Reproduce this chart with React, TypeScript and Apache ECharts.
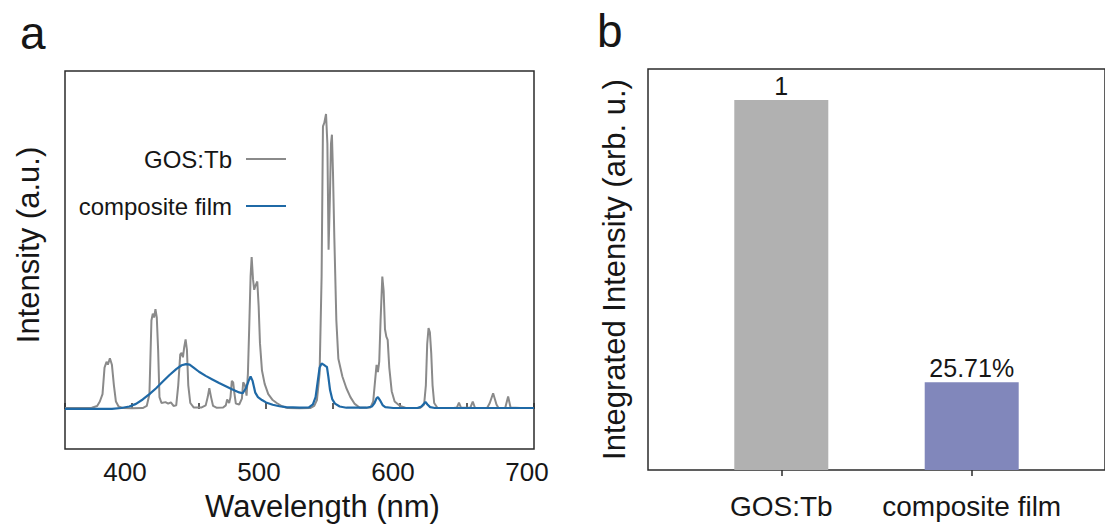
import React, { useEffect, useRef } from "react";
import * as echarts from "echarts";

// ---------- Data ----------
const seriesNames = ["GOS:Tb", "composite film"];

// GOS:Tb emission spectrum [wavelength (nm), intensity (a.u.)]
const gosTbSpectrum: [number, number][] = [
  [350, 0.3], [360, 0.3], [370, 0.4], [374, 1.0], [376, 2.5], [378, 5], [379.5, 14], [381, 16], [382, 15],
  [383.5, 17.2], [385, 15], [386.5, 8], [388, 2.5], [390, 0.8], [393, 0.3], [400, 0.2], [408, 0.3],
  [411, 1], [413, 5], [414.5, 30], [415.5, 32.3], [416.5, 31], [417.5, 33.8], [418.5, 31], [419.5, 20],
  [420.5, 4], [422, 2], [425, 2.3], [427, 1.8], [429, 2.2], [431, 1], [433, 1.2], [434.5, 8], [436, 18.5],
  [437, 19], [438, 17.5], [439, 21], [440, 23.6], [441, 20], [442, 8], [443.5, 2], [446, 0.5], [452, 0.5],
  [455, 1.2], [456.5, 4], [457.7, 7], [459, 4], [460.5, 1], [463, 0.4], [468, 0.5], [470, 1.2], [471, 3.2],
  [472.5, 2], [473.5, 4], [474.5, 9.5], [475.5, 9], [476.5, 5], [477.5, 1.8], [480, 1.5], [482, 3.5],
  [483, 9], [484.3, 8], [485.5, 4.5], [486.5, 12], [487.5, 28], [488.5, 45], [489.3, 51.5], [490.3, 44],
  [491.2, 40.4], [492.3, 42], [493.5, 43.2], [494.5, 35], [495.5, 22.3], [497, 13], [499, 8.5], [501.7, 5],
  [505, 3], [508, 2], [512, 0.9], [516, 0.3], [525, 0.2], [533, 0.3], [536, 1], [538, 3], [540, 12],
  [541.5, 45], [542.5, 95.8], [543.5, 97], [544.8, 100], [545.8, 90], [546.7, 54], [547.7, 72], [548.5, 90],
  [549.2, 93], [550, 80], [551, 58], [552.5, 30], [554, 17], [557, 11], [560, 7], [563, 4], [566, 1.8],
  [570, 0.4], [578, 0.5], [580, 2.5], [581.5, 10], [582.5, 14.9], [583.5, 12.5], [584.5, 16], [585.5, 30],
  [586.8, 44.9], [587.8, 40], [588.8, 27], [589.8, 24.5], [590.8, 23.4], [592, 14], [593.8, 6], [596, 2.5],
  [600, 1], [604, 0.4], [615, 0.3], [618, 1.5], [619.3, 8], [620.3, 22], [621.3, 27.4], [622.3, 26],
  [623.3, 19], [624.3, 8], [625.5, 2], [628, 0.3], [640, 0.3], [642.5, 0.5], [644, 2.1], [645.5, 0.4],
  [652.5, 0.4], [654.3, 2.5], [656, 0.3], [665, 0.3], [667, 2], [669.5, 5.3], [672, 1.5], [673.5, 0.3],
  [678.5, 0.3], [680.7, 4.2], [682.5, 0.5], [690, 0.3], [700, 0.3],
];

// Composite film emission spectrum [wavelength (nm), intensity (a.u.)]
const compositeSpectrum: [number, number][] = [
  [350, 0], [385, 0], [392, 0.3], [398, 0.8], [403, 1.7], [408, 3.2], [413, 5], [418, 7], [423, 9.3],
  [428, 11.5], [433, 13.5], [437, 14.8], [440.3, 15.2], [443, 15], [446, 14], [450, 12.6], [455, 11.2],
  [460, 10], [465, 8.8], [470, 7.7], [475, 6.6], [480, 5.6], [482.5, 5.3], [485, 7], [487, 9.5], [488.5, 11],
  [490, 9.5], [492, 5.5], [494, 4], [497, 3], [500, 2.2], [505, 1.4], [510, 0.9], [515, 0.6], [525, 0.4],
  [532, 0.5], [535, 1.5], [537, 4], [538.5, 9], [540, 14], [541.5, 15.4], [543, 15], [544.5, 14.5],
  [545.5, 14.2], [546.5, 11], [547.8, 6.4], [549.5, 3.2], [551.5, 1.8], [555, 0.8], [560, 0.4], [575, 0.4],
  [579, 0.8], [581, 2], [582.5, 3.6], [583.5, 4], [585, 3], [587, 1.3], [589, 0.6], [595, 0.3], [613, 0.3],
  [616, 0.8], [618, 1.8], [619, 2.4], [620.5, 1.5], [622.5, 0.6], [626, 0.3], [700, 0.3],
];

const wavelengthTickLabels = [400, 500, 600, 700];

const barCategories = ["GOS:Tb", "composite film"];
const barPositions = [1, 2];
const barValues = [1, 0.237];
const barLabels = ["1", "25.71%"];

// ---------- Styles ----------
const FONT = 'Arial, "Liberation Sans", Helvetica, sans-serif';
const lineColors = ["#8a8a8a", "#1f69a6"];
const barColors = ["#b1b1b1", "#8187bb"];
const frameColor = "#2b2b2b";
const textColor = "#161616";

export default function App() {
  const ref = useRef<HTMLDivElement>(null);

  useEffect(() => {
    if (!ref.current) return;
    const chart = echarts.init(ref.current, null, { renderer: "svg" });

    const option: any = {
      animation: false,
      backgroundColor: "#ffffff",
      textStyle: { fontFamily: FONT },
      grid: [
        {
          left: 65, top: 71, width: 469, height: 378, show: true,
          borderColor: frameColor, borderWidth: 1.5, backgroundColor: "transparent",
        },
        {
          left: 648, top: 69, width: 461, height: 401, show: true,
          borderColor: frameColor, borderWidth: 1.5, backgroundColor: "transparent",
        },
      ],
      legend: {
        data: seriesNames,
        orient: "vertical",
        align: "right",
        right: 819,
        top: 147,
        padding: 0,
        icon: "rect",
        itemWidth: 40,
        itemHeight: 2,
        itemGap: 23,
        textStyle: { fontSize: 24, color: textColor, fontFamily: FONT, lineHeight: 24, padding: [0, 9, 0, 0] },
      },
      xAxis: [
        {
          gridIndex: 0, type: "value", min: 350, max: 700, interval: 50,
          axisLine: { show: false },
          axisTick: { show: true, inside: true, length: 6, lineStyle: { color: frameColor, width: 1.5 } },
          axisLabel: {
            fontSize: 26, color: textColor, margin: 10, fontFamily: FONT, padding: [0, 14, 0, 0],
            formatter: (v: number) => (wavelengthTickLabels.includes(v) ? String(v) : ""),
          },
          splitLine: { show: false },
          name: "Wavelength (nm)", nameLocation: "middle", nameGap: 42,
          nameTextStyle: { fontSize: 31, color: textColor, fontFamily: FONT, padding: [0, 0, 0, 46] },
        },
        {
          gridIndex: 1, type: "value", min: 0.3, max: 2.7,
          axisLine: { show: false },
          axisTick: { show: true, customValues: barPositions, length: 6, lineStyle: { color: frameColor, width: 1.5 } },
          axisLabel: {
            customValues: barPositions, fontSize: 28, color: textColor, margin: 22, fontFamily: FONT,
            formatter: (v: number) => barCategories[Math.round(v) - 1] ?? "",
          },
          splitLine: { show: false },
        },
      ],
      yAxis: [
        {
          gridIndex: 0, type: "value", min: -13.6, max: 114.6,
          axisLine: { show: false }, axisTick: { show: false }, axisLabel: { show: false }, splitLine: { show: false },
          name: "Intensity (a.u.)", nameLocation: "middle", nameGap: 21,
          nameTextStyle: { fontSize: 31, color: textColor, fontFamily: FONT, padding: [0, 0, 0, 30] },
        },
        {
          gridIndex: 1, type: "value", min: 0, max: 1.084,
          axisLine: { show: false }, axisTick: { show: false }, axisLabel: { show: false }, splitLine: { show: false },
          name: "Integrated Intensity (arb. u.)", nameLocation: "middle", nameGap: 18,
          nameTextStyle: { fontSize: 31, color: textColor, fontFamily: FONT },
        },
      ],
      series: [
        {
          name: seriesNames[0], type: "line", xAxisIndex: 0, yAxisIndex: 0,
          data: gosTbSpectrum, symbol: "none", showSymbol: false,
          lineStyle: { color: lineColors[0], width: 2 }, itemStyle: { color: lineColors[0] },
          z: 2,
        },
        {
          name: seriesNames[1], type: "line", xAxisIndex: 0, yAxisIndex: 0,
          data: compositeSpectrum, symbol: "none", showSymbol: false,
          lineStyle: { color: lineColors[1], width: 2.2 }, itemStyle: { color: lineColors[1] },
          z: 3,
        },
        {
          type: "bar", xAxisIndex: 1, yAxisIndex: 1, barWidth: 94,
          data: barPositions.map((x, i) => ({
            value: [x, barValues[i]],
            itemStyle: { color: barColors[i] },
            label: { formatter: barLabels[i] },
          })),
          label: { show: true, position: "top", distance: 2, fontSize: 25, color: textColor, fontFamily: FONT },
        },
      ],
      graphic: [
        { type: "text", left: 20, top: 10, style: { text: "a", fontSize: 46, fill: textColor, fontFamily: FONT } },
        { type: "text", left: 597, top: 8, style: { text: "b", fontSize: 46, fill: textColor, fontFamily: FONT } },
      ],
    };

    chart.setOption(option);
    return () => chart.dispose();
  }, []);

  return (
    <div
      ref={ref}
      style={{ position: "fixed", left: 0, top: 0, width: 1105, height: 529, background: "#fff" }}
    />
  );
}
